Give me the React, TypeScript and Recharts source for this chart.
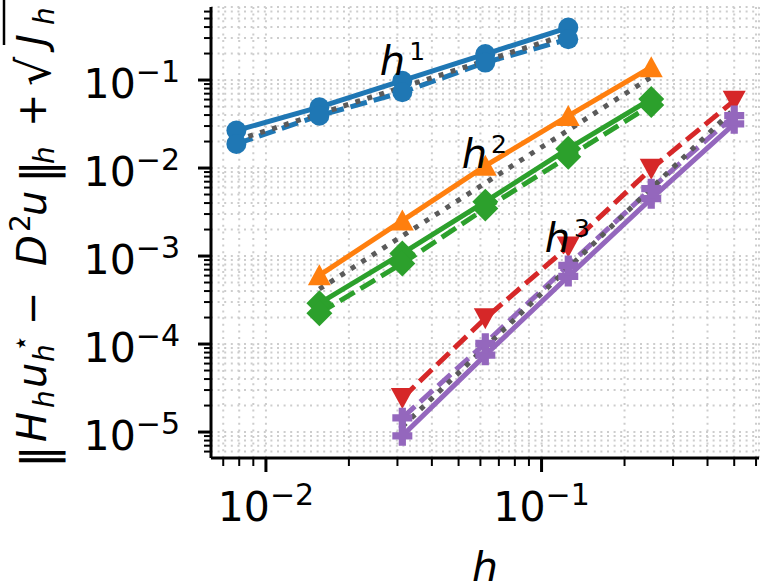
import React from "react";
import { LineChart, Line, XAxis, YAxis, CartesianGrid, ReferenceDot } from "recharts";

// mesh sizes for the three groups of runs
const hCoarse = [1 / 128, 1 / 64, 1 / 32, 1 / 16, 1 / 8];
const hMid = [1 / 64, 1 / 32, 1 / 16, 1 / 8, 1 / 4];
const hFine = [1 / 32, 1 / 16, 1 / 8, 1 / 4, 1 / 2];

// errors
const blueSolid = [0.0267, 0.0491, 0.0982, 0.197, 0.395];
const blueDashed = [0.0188, 0.0394, 0.0726, 0.158, 0.291];
const orangeSolid = [6.03e-4, 2.53e-3, 0.0106, 0.0391, 0.14];
const greenSolid = [2.9e-4, 1.07e-3, 4.15e-3, 0.0166, 0.061];
const greenDashed = [2.24e-4, 8.24e-4, 3.46e-3, 0.0134, 0.0521];
const redDashed = [2.44e-5, 1.96e-4, 1.28e-3, 9.82e-3, 0.0583];
const purpleDashed = [1.45e-5, 1.02e-4, 7.83e-4, 5.83e-3, 0.0395];
const purpleSolid = [9.06e-6, 7.48e-5, 5.87e-4, 4.49e-3, 0.0318];

// reference slopes h^1, h^2, h^3
const slope1 = [0.0207, 0.0414, 0.0829, 0.166, 0.331];
const slope2 = [4.22e-4, 1.69e-3, 6.76e-3, 0.027, 0.108];
const slope3 = [1.15e-5, 9.18e-5, 7.34e-4, 5.88e-3, 0.047];

// axis ticks
const xMajor = [0.01, 0.1];
const yMajor = [1e-5, 1e-4, 1e-3, 1e-2, 1e-1];
const mantissas = [1, 2, 3, 4, 5, 6, 7, 8, 9];
const xDomain = [0.00632, 0.615];
const yDomain = [5.07e-6, 0.676];

const withMinor = (majors: number[], decadeBelow: number, lo: number, hi: number) => {
  const out: number[] = [];
  [decadeBelow, ...majors].forEach((d) =>
    mantissas.forEach((m) => {
      const v = +(d * m).toPrecision(6);
      if (v >= lo && v <= hi) out.push(v);
    })
  );
  return out;
};
const xTicks = withMinor(xMajor, 0.001, xDomain[0], xDomain[1]);
const yTicks = withMinor(yMajor, 1e-6, yDomain[0], yDomain[1]);

const isMajor = (v: number) => Math.abs(Math.log10(v) - Math.round(Math.log10(v))) < 1e-6;

const rows = (h: number[], v: number[]) => h.map((x, i) => ({ h: x, v: v[i] }));

const C = {
  blue: "#1f77b4",
  orange: "#ff7f0e",
  green: "#2ca02c",
  red: "#d62728",
  purple: "#9467bd",
  ref: "#5a5a5a",
};
const FONT = "DejaVu Sans, sans-serif";
const LW = 5;
const DASHED = "17 7";

type Shape = "circle" | "triUp" | "triDown" | "diamond" | "plus";

const marker = (shape: Shape, color: string) => (p: any) => {
  const { cx, cy, index } = p;
  const k = `m${index}`;
  if (cx == null || cy == null) return <g key={k} />;
  if (shape === "circle") return <circle key={k} cx={cx} cy={cy} r={10} fill={color} />;
  let pts: number[][] = [];
  if (shape === "triUp") pts = [[0, -11], [-11.5, 10], [11.5, 10]];
  if (shape === "triDown") pts = [[0, 11], [-11.5, -10], [11.5, -10]];
  if (shape === "diamond") pts = [[0, -13], [13, 0], [0, 13], [-13, 0]];
  if (shape === "plus") {
    const a = 10, b = 3.6;
    pts = [[-b, -a], [b, -a], [b, -b], [a, -b], [a, b], [b, b], [b, a], [-b, a], [-b, b], [-a, b], [-a, -b], [-b, -b]];
  }
  return (
    <polygon key={k} points={pts.map(([x, y]) => `${cx + x},${cy + y}`).join(" ")} fill={color} />
  );
};

const XTick = (props: any) => {
  const { x, y, payload } = props;
  const major = isMajor(payload.value);
  const e = Math.round(Math.log10(payload.value));
  return (
    <g>
      <line x1={x} x2={x} y1={y} y2={y + (major ? 14 : 8)} stroke="#000" strokeWidth={major ? 3 : 2} />
      {major && (
        <text x={x} y={y + 63} textAnchor="middle" fontFamily={FONT} fontSize={41} fill="#000">
          10<tspan dy={-16} fontSize={30}>{`\u2212${Math.abs(e)}`}</tspan>
        </text>
      )}
    </g>
  );
};

const YTick = (props: any) => {
  const { x, y, payload } = props;
  const major = isMajor(payload.value);
  const e = Math.round(Math.log10(payload.value));
  return (
    <g>
      <line x1={x} x2={x - (major ? 13 : 7)} y1={y} y2={y} stroke="#000" strokeWidth={major ? 3 : 2} />
      {major && (
        <text x={x - 31} y={y + 18} textAnchor="end" fontFamily={FONT} fontSize={41} fill="#000">
          10<tspan dy={-16} fontSize={30}>{`\u2212${Math.abs(e)}`}</tspan>
        </text>
      )}
    </g>
  );
};

const annotation = (power: string) => (p: any) => (
  <text x={p.cx} y={p.cy} fontFamily={FONT} fontSize={40} fill="#000">
    <tspan fontStyle="italic">h</tspan>
    <tspan dx={4} dy={-15} fontSize={25}>{power}</tspan>
  </text>
);

// ‖H_h u_h^⋆ − D²u‖_h + √J_h, written bottom to top
const YLabel = () => {
  const piece = (s: number, base: number, size: number, txt: string, italic = false) => (
    <text x={-s} y={base} fontFamily={FONT} fontSize={size} fontStyle={italic ? "italic" : "normal"} fill="#000">
      {txt}
    </text>
  );
  return (
    <g transform="rotate(-90)">
      {piece(468, 54, 46, "\u2016")}
      {piece(442, 46, 40, "H", true)}
      {piece(408, 54, 28, "h", true)}
      {piece(388, 46, 40, "u", true)}
      {piece(352, 30, 28, "\u22c6")}
      {piece(362, 54, 28, "h", true)}
      {piece(325, 46, 40, "\u2212")}
      {piece(266, 46, 40, "D", true)}
      {piece(232, 30, 28, "2")}
      {piece(216, 46, 40, "u", true)}
      {piece(183, 54, 46, "\u2016")}
      {piece(164, 54, 28, "h", true)}
      {piece(127, 46, 40, "+")}
      {piece(86, 50, 46, "\u221a")}
      {piece(46, 46, 40, "J", true)}
      {piece(25, 54, 28, "h", true)}
      <line x1={-45} x2={2} y1={4} y2={4} stroke="#000" strokeWidth={2.5} />
    </g>
  );
};

const series = [
  { data: rows(hCoarse, blueSolid), color: C.blue, dash: undefined, shape: "circle" as Shape },
  { data: rows(hCoarse, blueDashed), color: C.blue, dash: DASHED, shape: "circle" as Shape },
  { data: rows(hMid, orangeSolid), color: C.orange, dash: undefined, shape: "triUp" as Shape },
  { data: rows(hMid, greenSolid), color: C.green, dash: undefined, shape: "diamond" as Shape },
  { data: rows(hMid, greenDashed), color: C.green, dash: DASHED, shape: "diamond" as Shape },
  { data: rows(hFine, redDashed), color: C.red, dash: DASHED, shape: "triDown" as Shape },
  { data: rows(hFine, purpleSolid), color: C.purple, dash: undefined, shape: "plus" as Shape },
  { data: rows(hFine, purpleDashed), color: C.purple, dash: DASHED, shape: "plus" as Shape },
];

const refs = [rows(hCoarse, slope1), rows(hMid, slope2), rows(hFine, slope3)];

const seriesLine = (s: (typeof series)[number], key: string) => (
  <Line key={key} data={s.data} dataKey="v" stroke={s.color} strokeWidth={LW} strokeDasharray={s.dash}
    dot={marker(s.shape, s.color)} activeDot={false} isAnimationActive={false} />
);

const refLine = (d: { h: number; v: number }[], key: string) => (
  <Line key={key} data={d} dataKey="v" stroke={C.ref} strokeWidth={LW} strokeDasharray="5 7.5"
    dot={false} activeDot={false} isAnimationActive={false} />
);

export default function App() {
  return (
    <div style={{ position: "absolute", left: 0, top: 0, width: 761, height: 583, background: "#fff" }}>
      <LineChart width={761} height={583} margin={{ top: 7, right: 2, bottom: 0, left: 0 }}>
        <CartesianGrid stroke="#cdcdcd" strokeWidth={2} strokeDasharray="2 4.6" />
        <XAxis
          type="number"
          dataKey="h"
          scale="log"
          domain={xDomain}
          allowDataOverflow
          ticks={xTicks}
          interval={0}
          height={125}
          tickSize={0}
          tickMargin={0}
          tickLine={false}
          axisLine={{ stroke: "#000", strokeWidth: 3 }}
          tick={<XTick />}
        />
        <YAxis
          type="number"
          dataKey="v"
          scale="log"
          domain={yDomain}
          allowDataOverflow
          ticks={yTicks}
          interval={0}
          width={211}
          tickSize={0}
          tickMargin={0}
          tickLine={false}
          axisLine={{ stroke: "#000", strokeWidth: 3 }}
          tick={<YTick />}
        />
        {seriesLine(series[0], "s0")}
        {seriesLine(series[1], "s1")}
        {refLine(refs[0], "r0")}
        {seriesLine(series[2], "s2")}
        {seriesLine(series[3], "s3")}
        {seriesLine(series[4], "s4")}
        {refLine(refs[1], "r1")}
        {seriesLine(series[5], "s5")}
        {seriesLine(series[6], "s6")}
        {seriesLine(series[7], "s7")}
        {refLine(refs[2], "r2")}
        <ReferenceDot x={0.0259} y={0.114} r={0} shape={annotation("1")} />
        <ReferenceDot x={0.0513} y={0.01} r={0} shape={annotation("2")} />
        <ReferenceDot x={0.1026} y={1.11e-3} r={0} shape={annotation("3")} />
      </LineChart>
      <svg width={761} height={583} style={{ position: "absolute", left: 0, top: 0, pointerEvents: "none" }}>
        <YLabel />
        <text x={485} y={581} textAnchor="middle" fontFamily={FONT} fontSize={41} fontStyle="italic" fill="#000">
          h
        </text>
      </svg>
    </div>
  );
}
